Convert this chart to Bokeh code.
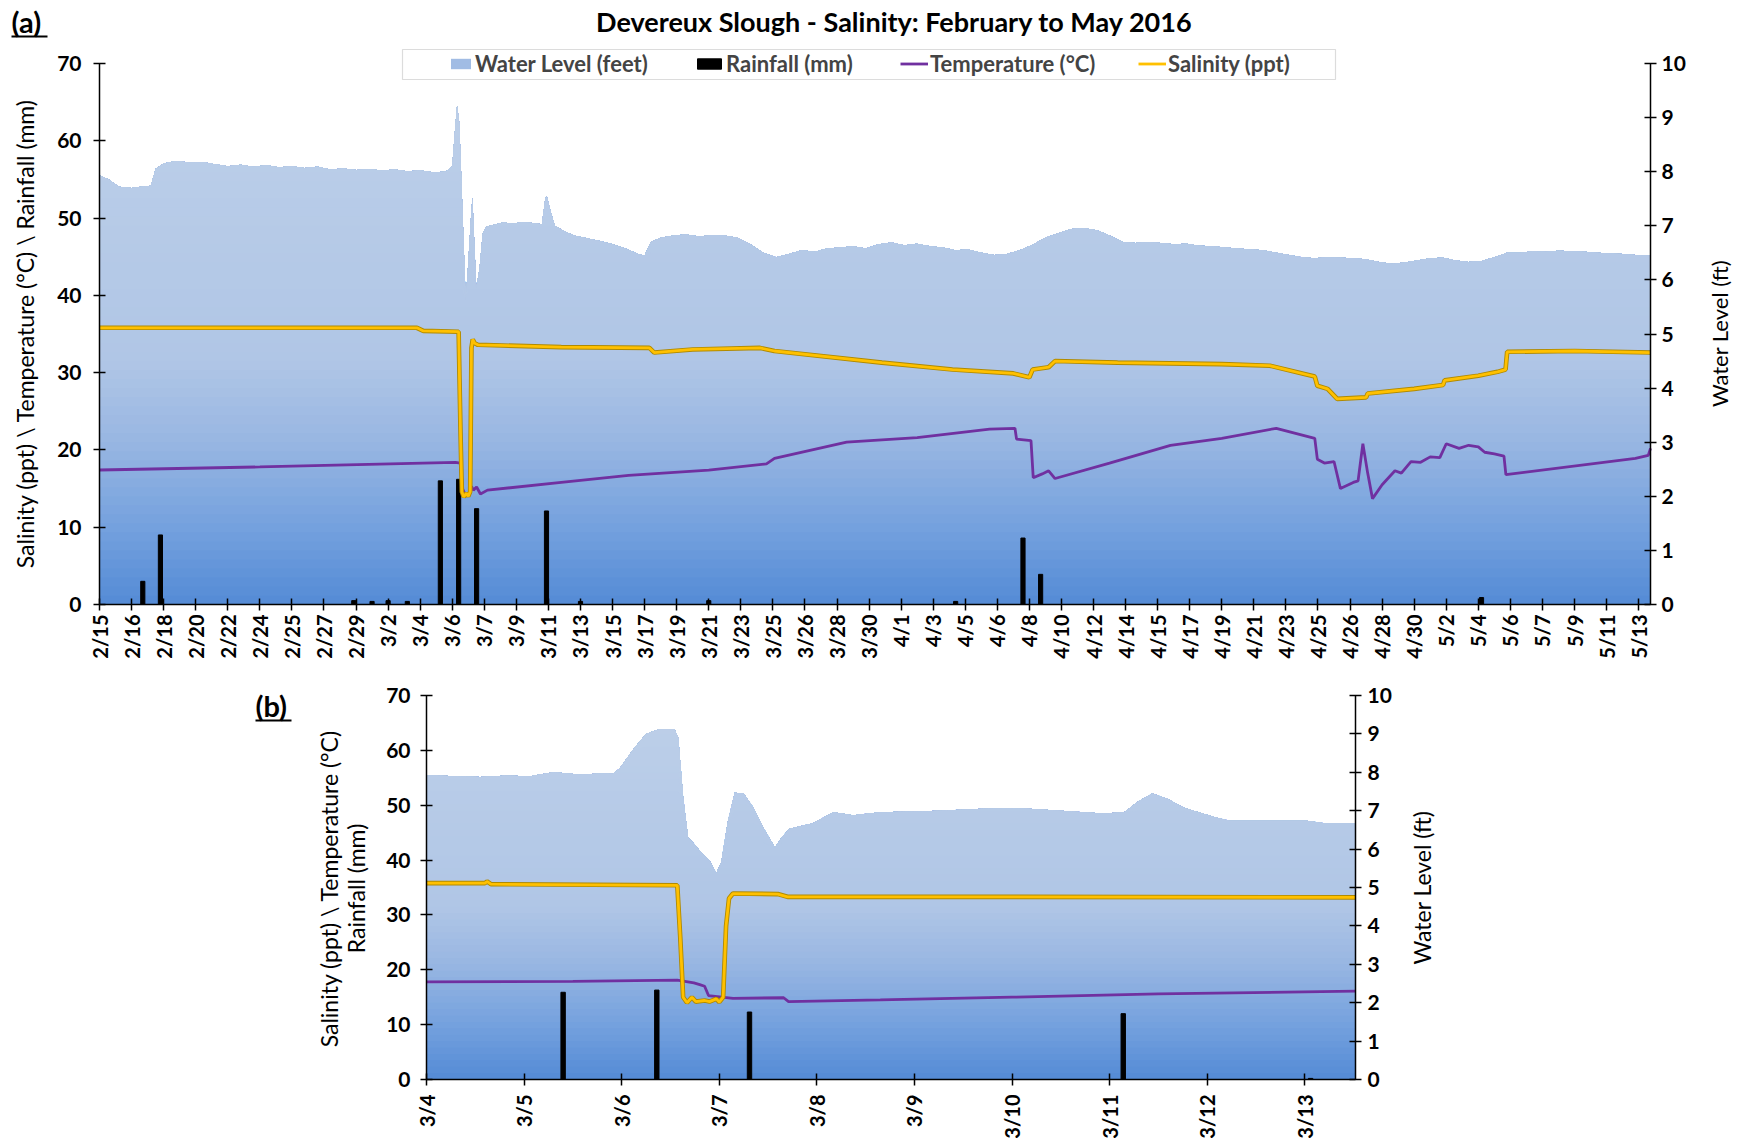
import numpy as np
from bokeh.plotting import figure
from bokeh.models import Range1d, LinearAxis, FixedTicker, Label, Legend, LegendItem, BoxAnnotation
from bokeh.layouts import column
from bokeh.embed import file_html
from bokeh.resources import INLINE

FONT = "Lato"

# ---------------- Panel (a): x = position in tick-label slots ----------------
a_tick_labels = ["2/15", "2/16", "2/18", "2/20", "2/22", "2/24", "2/25", "2/27", "2/29", "3/2",
                 "3/4", "3/6", "3/7", "3/9", "3/11", "3/13", "3/15", "3/17", "3/19", "3/21",
                 "3/23", "3/25", "3/26", "3/28", "3/30", "4/1", "4/3", "4/5", "4/6", "4/8",
                 "4/10", "4/12", "4/14", "4/15", "4/17", "4/19", "4/21", "4/23", "4/25", "4/26",
                 "4/28", "4/30", "5/2", "5/4", "5/6", "5/7", "5/9", "5/11", "5/13"]
a_x_end = 48.37

a_wl_x = [0.0, 0.3, 0.6, 1.0, 1.3, 1.6, 1.75, 2.0, 2.4, 2.8, 3.2, 3.6, 4.0, 4.4, 4.8, 5.2, 5.6, 6.0,
          6.4, 6.8, 7.2, 7.6, 8.0, 8.4, 8.8, 9.2, 9.6, 10.0, 10.4, 10.8, 11.0, 11.08, 11.15, 11.22,
          11.3, 11.42, 11.5, 11.58, 11.63, 11.68, 11.75, 11.85, 11.95, 12.05, 12.3, 12.6, 12.9,
          13.2, 13.5, 13.8, 13.9, 13.95, 14.05, 14.2, 14.5, 14.8, 15.2, 15.6, 16.0, 16.4, 16.8,
          17.0, 17.2, 17.5, 17.9, 18.3, 18.7, 19.1, 19.5, 19.9, 20.3, 20.7, 21.1, 21.5, 21.9, 22.3,
          22.7, 23.1, 23.5, 23.9, 24.3, 24.7, 25.1, 25.5, 25.9, 26.3, 26.7, 27.1, 27.5, 27.9, 28.3,
          28.7, 29.1, 29.5, 29.9, 30.3, 30.7, 31.1, 31.5, 31.9, 32.3, 32.7, 33.1, 33.5, 33.9, 34.3,
          34.7, 35.1, 35.5, 35.9, 36.3, 36.7, 37.1, 37.5, 37.9, 38.3, 38.7, 39.1, 39.5, 39.9, 40.3,
          40.7, 41.1, 41.5, 41.9, 42.3, 42.7, 43.1, 43.5, 43.9, 44.3, 44.7, 45.1, 45.5, 45.9, 46.3,
          46.7, 47.1, 47.5, 47.9, 48.37]
a_wl_ft = [7.93, 7.85, 7.72, 7.70, 7.72, 7.74, 8.05, 8.15, 8.20, 8.17, 8.18, 8.14, 8.10, 8.13, 8.09,
           8.12, 8.08, 8.10, 8.07, 8.09, 8.04, 8.06, 8.03, 8.05, 8.02, 8.04, 8.01, 8.02, 7.99, 8.00,
           8.10, 8.70, 9.22, 8.90, 7.60, 5.63, 6.30, 7.10, 7.52, 6.80, 5.85, 6.20, 6.85, 6.98, 7.02,
           7.06, 7.04, 7.07, 7.05, 7.03, 7.50, 7.54, 7.30, 7.00, 6.90, 6.82, 6.77, 6.72, 6.66, 6.58,
           6.48, 6.45, 6.70, 6.78, 6.82, 6.84, 6.80, 6.83, 6.82, 6.78, 6.66, 6.50, 6.42, 6.48, 6.55,
           6.52, 6.58, 6.60, 6.62, 6.58, 6.66, 6.69, 6.64, 6.67, 6.62, 6.60, 6.55, 6.56, 6.50, 6.46,
           6.48, 6.55, 6.65, 6.78, 6.86, 6.94, 6.96, 6.92, 6.82, 6.70, 6.68, 6.70, 6.68, 6.66, 6.67,
           6.63, 6.62, 6.60, 6.58, 6.56, 6.55, 6.50, 6.46, 6.42, 6.40, 6.42, 6.41, 6.40, 6.38, 6.33,
           6.30, 6.32, 6.36, 6.40, 6.41, 6.36, 6.33, 6.35, 6.42, 6.50, 6.50, 6.53, 6.52, 6.54, 6.53,
           6.52, 6.50, 6.49, 6.48, 6.46, 6.45]

a_sal_x = [0, 9.9, 10.1, 11.2, 11.26, 11.3, 11.36, 11.44, 11.5, 11.56, 11.6, 11.64, 11.7, 11.8,
           14.4, 17.15, 17.3, 18.5, 20.6, 21.05, 24.4, 26.6, 28.5, 29.0, 29.1, 29.6, 29.8, 31.75,
           35.0, 36.5, 37.9, 37.98, 38.3, 38.6, 39.5, 39.55, 41.0, 41.9, 41.95, 43.0, 43.6, 43.85,
           43.9, 46.0, 48.37]
a_sal = [35.8, 35.8, 35.4, 35.3, 22.0, 14.6, 13.9, 14.4, 14.0, 14.6, 33.2, 34.3, 33.8, 33.6,
         33.3, 33.2, 32.6, 33.0, 33.2, 32.8, 31.3, 30.4, 29.9, 29.4, 30.4, 30.7, 31.5, 31.3,
         31.1, 30.9, 29.5, 28.3, 27.9, 26.6, 26.8, 27.3, 27.9, 28.4, 29.0, 29.6, 30.1, 30.4,
         32.7, 32.8, 32.6]

a_tmp_x = [0, 5, 11.1, 11.25, 11.32, 11.42, 11.52, 11.6, 11.66, 11.76, 11.88, 12.1, 14.4, 16.5,
           19.0, 20.8, 21.05, 23.3, 25.5, 27.76, 28.55, 28.6, 29.05, 29.12, 29.4, 29.6, 29.8,
           31.5, 33.4, 35.0, 36.7, 37.9, 37.98, 38.2, 38.5, 38.7, 39.1, 39.25, 39.4, 39.55, 39.7,
           40.0, 40.4, 40.6, 40.9, 41.2, 41.5, 41.8, 42.0, 42.4, 42.7, 43.0, 43.2, 43.5, 43.8,
           43.86, 47.9, 48.3, 48.37]
a_tmp = [17.4, 17.8, 18.4, 18.3, 15.0, 14.1, 14.4, 15.3, 14.8, 15.2, 14.3, 14.8, 15.8, 16.7,
         17.4, 18.2, 18.9, 21.0, 21.6, 22.7, 22.8, 21.4, 21.2, 16.4, 16.9, 17.3, 16.3,
         18.3, 20.6, 21.5, 22.8, 21.5, 18.8, 18.3, 18.5, 15.0, 15.8, 16.0, 20.8, 17.0, 13.7,
         15.5, 17.3, 17.0, 18.5, 18.4, 19.1, 19.0, 20.8, 20.2, 20.6, 20.4, 19.7, 19.5, 19.2,
         16.8, 18.9, 19.3, 20.2]

a_rain_x = [1.35, 1.9, 7.93, 8.5, 9.0, 9.6, 10.63, 11.2, 11.76, 13.94, 15.0, 19.0, 26.7, 28.8, 29.35, 43.1]
a_rain = [3.0, 9.0, 0.5, 0.4, 0.5, 0.4, 16.0, 16.2, 12.4, 12.1, 0.4, 0.5, 0.4, 8.6, 3.9, 0.9]

# ---------------- Panel (b): x = days after 3/4 00:00 ----------------
b_tick_labels = ["3/4", "3/5", "3/6", "3/7", "3/8", "3/9", "3/10", "3/11", "3/12", "3/13"]
b_x_end = 9.52

b_wl_x = [0.0, 0.3, 0.55, 0.8, 1.06, 1.3, 1.57, 1.8, 1.91, 1.98, 2.05, 2.12, 2.25, 2.39, 2.54,
          2.58, 2.63, 2.68, 2.73, 2.8, 2.9, 2.97, 3.02, 3.09, 3.16, 3.25, 3.35, 3.45, 3.57, 3.64,
          3.72, 3.96, 4.17, 4.37, 4.65, 5.0, 5.25, 5.7, 6.03, 6.5, 6.93, 7.15, 7.3, 7.44, 7.6,
          7.76, 8.08, 8.23, 8.66, 9.02, 9.2, 9.52]
b_wl_ft = [7.92, 7.90, 7.88, 7.91, 7.90, 8.00, 7.94, 7.97, 7.96, 8.10, 8.35, 8.60, 9.00, 9.13,
           9.13, 8.90, 7.35, 6.30, 6.17, 5.96, 5.70, 5.37, 5.65, 6.74, 7.47, 7.45, 7.08, 6.56,
           6.04, 6.30, 6.53, 6.67, 6.96, 6.88, 6.96, 6.98, 7.00, 7.05, 7.07, 7.00, 6.93, 6.96,
           7.25, 7.45, 7.30, 7.08, 6.83, 6.74, 6.74, 6.74, 6.67, 6.67]

b_sal_x = [0, 0.6, 0.62, 0.66, 2.57, 2.6, 2.63, 2.67, 2.72, 2.76, 2.85, 2.9, 2.97, 3.0, 3.04,
           3.07, 3.1, 3.14, 3.6, 3.7, 6.0, 9.52]
b_sal = [35.8, 35.8, 36.1, 35.6, 35.4, 26.0, 15.0, 14.0, 15.0, 14.2, 14.4, 14.2, 14.7, 14.1,
         15.0, 28.0, 33.0, 33.9, 33.8, 33.3, 33.3, 33.2]

b_tmp_x = [0, 1.5, 2.57, 2.74, 2.8, 2.85, 2.89, 3.14, 3.66, 3.71, 4.65, 6.0, 7.5, 9.52]
b_tmp = [17.8, 17.9, 18.1, 17.6, 17.3, 17.0, 15.3, 14.8, 14.9, 14.2, 14.5, 15.0, 15.6, 16.1]

b_rain_x = [1.40, 2.36, 3.31, 7.14, 9.06]
b_rain = [15.9, 16.3, 12.3, 12.0, 0.2]

# ---------------- styling helpers ----------------
PAGE_W = 1740
GRAD_FT = [0.0, 1.5, 3.0, 4.5, 10.0]
GRAD_RGB = [(84, 139, 214), (118, 162, 222), (152, 182, 226), (176, 198, 230), (190, 208, 233)]


def grad_color(ft):
    r = int(round(np.interp(ft, GRAD_FT, [c[0] for c in GRAD_RGB])))
    g = int(round(np.interp(ft, GRAD_FT, [c[1] for c in GRAD_RGB])))
    b = int(round(np.interp(ft, GRAD_FT, [c[2] for c in GRAD_RGB])))
    return "#%02x%02x%02x" % (r, g, b)


def style_axis(ax, size="21px"):
    ax.axis_line_color = "black"
    ax.axis_line_width = 1.5
    ax.major_tick_line_color = "black"
    ax.major_tick_line_width = 1.5
    ax.major_tick_in = 6
    ax.major_tick_out = 6
    ax.minor_tick_line_color = None
    ax.major_label_text_font = FONT
    ax.major_label_text_font_style = "bold"
    ax.major_label_text_font_size = size
    ax.major_label_text_color = "black"


def make_panel(height, geom, x_end, tick_labels, wl_x, wl, sal_x, sal, tmp_x, tmp,
               rain_x, rain, bar_w, xstandoff, ystandoff, rstandoff):
    # geom: page-pixel positions of the plot area (left, right, top, bottom) and of the canvas top
    left, right, top, bottom, ctop = geom
    cleft, cright, cbottom = 0.0, float(PAGE_W), ctop + height
    sx = (right - left) / x_end
    sy = (bottom - top) / 70.0
    xr = Range1d((cleft - left) / sx, x_end + (cright - right) / sx)
    yr = Range1d(-(cbottom - bottom) / sy, (bottom - ctop) / sy)
    p = figure(width=PAGE_W, height=height, x_range=xr, y_range=yr,
               output_backend="svg", toolbar_location=None,
               min_border_left=0, min_border_right=0, min_border_top=0, min_border_bottom=0)
    p.title.visible = False
    p.extra_y_ranges = {"ft": Range1d(yr.start / 7.0, yr.end / 7.0)}
    p.outline_line_color = None
    p.xgrid.visible = False
    p.ygrid.visible = False
    p.background_fill_color = "white"
    p.border_fill_color = "white"

    x = np.asarray(wl_x, float)
    lvl = np.asarray(wl, float)
    n = 60
    bands = []
    for k in range(n):
        lo = 10.0 * k / n
        if lo >= lvl.max():
            break
        bands.append(p.varea(x=x, y1=np.minimum(lvl, lo), y2=lvl,
                             fill_color=grad_color(lo + 5.0 / n), y_range_name="ft"))

    rr = p.vbar(x=rain_x, top=rain, width=bar_w, bottom=0, fill_color="black", line_color="black")
    tr = p.line(tmp_x, tmp, line_color="#7030A0", line_width=2.8)
    p.line(sal_x, sal, line_color="#B08A00", line_width=4.6)
    sr = p.line(sal_x, sal, line_color="#FFC000", line_width=2.8)

    ax_y = p.yaxis[0]
    style_axis(ax_y)
    ax_y.fixed_location = 0
    ax_y.bounds = (0, 70)
    ax_y.ticker = FixedTicker(ticks=[0, 10, 20, 30, 40, 50, 60, 70])
    ax_y.major_label_standoff = ystandoff

    ax_r = LinearAxis(y_range_name="ft", ticker=FixedTicker(ticks=list(range(11))))
    style_axis(ax_r)
    ax_r.fixed_location = x_end
    ax_r.bounds = (0, 10)
    ax_r.major_label_standoff = rstandoff
    p.add_layout(ax_r, "right")

    ax_x = p.xaxis[0]
    style_axis(ax_x, "20px")
    ax_x.fixed_location = 0
    ax_x.bounds = (0, x_end)
    ax_x.ticker = FixedTicker(ticks=list(range(len(tick_labels))))
    ax_x.major_label_overrides = {i: lab for i, lab in enumerate(tick_labels)}
    ax_x.major_label_orientation = np.pi / 2
    ax_x.major_label_standoff = xstandoff
    return p, bands, rr, tr, sr


def txt(p, ctop, h, X, Y, text, size, bold=False, align="center", angle=0.0):
    # X, Y: page pixel position (from top-left of the window)
    p.add_layout(Label(x=X, y=ctop + h - Y, x_units="screen", y_units="screen", text=text,
                       angle=angle, text_align=align, text_baseline="middle", text_font=FONT,
                       text_font_size=size, text_font_style="bold" if bold else "normal",
                       text_color="black"))


def box(p, ctop, h, X0, X1, Y0, Y1, fill=None, line=None, lw=1.0):
    p.add_layout(BoxAnnotation(left=X0, right=X1, top=ctop + h - Y0, bottom=ctop + h - Y1,
                               left_units="screen", right_units="screen", top_units="screen",
                               bottom_units="screen", fill_color=fill if fill else "white",
                               fill_alpha=1 if fill else 0, line_color=line, line_width=lw))


# ---------------- Panel (a) ----------------
H1, T1 = 664, 0
p1, bands1, rr1, tr1, sr1 = make_panel(H1, (99, 1650, 63, 604, T1), a_x_end, a_tick_labels,
                                       a_wl_x, a_wl_ft, a_sal_x, a_sal, a_tmp_x, a_tmp,
                                       a_rain_x, a_rain, 0.13, 4, 12, 5)
txt(p1, T1, H1, 894, 21, "Devereux Slough - Salinity: February to May 2016", "27px", bold=True)
txt(p1, T1, H1, 11, 21, "(a)", "29px", bold=True, align="left")
box(p1, T1, H1, 11, 47, 35, 37, fill="black")
txt(p1, T1, H1, 24, 333, "Salinity (ppt) \\ Temperature (°C) \\ Rainfall (mm)", "23px", angle=np.pi / 2)
txt(p1, T1, H1, 1719, 333, "Water Level (ft)", "22px", angle=np.pi / 2)

# legend frame and entries
box(p1, T1, H1, 402, 1335, 49, 79, line="#8c8c8c", lw=1.2)
wl_swatch = bands1[21]


def add_leg(p, label, renderer, X, gw):
    lg = Legend(items=[LegendItem(label=label, renderers=[renderer])],
                location=(X, T1 + H1 - 77), orientation="horizontal",
                border_line_color=None, background_fill_alpha=0,
                padding=0, margin=0, glyph_width=gw, glyph_height=13, label_standoff=2,
                label_text_font=FONT, label_text_font_style="bold", label_text_font_size="22px",
                label_height=26)
    p.add_layout(lg)


add_leg(p1, "Water Level (feet)", wl_swatch, 448, 25)
add_leg(p1, "Rainfall (mm)", rr1, 694, 30)
add_leg(p1, "Temperature (°C)", tr1, 900, 28)
add_leg(p1, "Salinity (ppt)", sr1, 1138, 28)

# ---------------- Panel (b) ----------------
H2, T2 = 480, 664
p2, _, _, _, _ = make_panel(H2, (426, 1355, 695, 1079, T2), b_x_end, b_tick_labels,
                            b_wl_x, b_wl_ft, b_sal_x, b_sal, b_tmp_x, b_tmp,
                            b_rain_x, b_rain, 0.045, 9, 10, 6)
txt(p2, T2, H2, 255, 705, "(b)", "29px", bold=True, align="left")
box(p2, T2, H2, 255, 291, 719, 721, fill="black")
txt(p2, T2, H2, 328, 888, "Salinity (ppt) \\ Temperature (°C)", "23px", angle=np.pi / 2)
txt(p2, T2, H2, 355, 888, "Rainfall (mm)", "23px", angle=np.pi / 2)
txt(p2, T2, H2, 1421, 887, "Water Level (ft)", "23px", angle=np.pi / 2)

layout = column(p1, p2, spacing=0)
open("out.html", "w").write(file_html(layout, INLINE))
